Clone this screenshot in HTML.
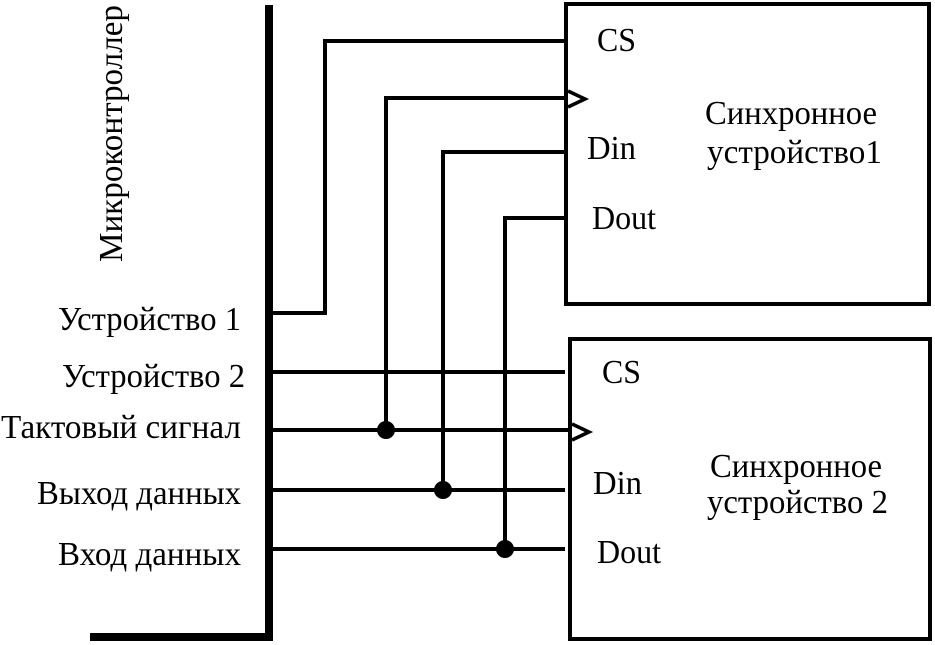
<!DOCTYPE html>
<html><head><meta charset="utf-8"><style>
html,body{margin:0;padding:0;background:#fff;}
svg{display:block;}
text{font-family:"Liberation Serif","DejaVu Serif",serif;font-size:34px;fill:#000;}
</style></head><body>
<svg width="935" height="645" viewBox="0 0 935 645" xmlns="http://www.w3.org/2000/svg">
<g stroke="#000" fill="none" stroke-width="4">
<rect x="566" y="4" width="363" height="300"/>
<rect x="570" y="339" width="360" height="300"/>
<polyline points="272,313 325,313 325,41 566,41"/>
<polyline points="386,430 386,98 566,98"/>
<polyline points="443,490 443,152 566,152"/>
<polyline points="505,549 505,218 566,218"/>
<line x1="272" y1="372" x2="565" y2="372"/>
<line x1="272" y1="430" x2="568" y2="430"/>
<line x1="272" y1="490" x2="565" y2="490"/>
<line x1="272" y1="549" x2="565" y2="549"/>
<polyline points="568,91 585,99 568,107" stroke-width="3.5"/>
<polyline points="572,424 589,432 572,440" stroke-width="3.5"/>
</g>
<rect x="265" y="5" width="8" height="636" fill="#000"/>
<rect x="90" y="633" width="183" height="8" fill="#000"/>
<circle cx="386" cy="430" r="9" fill="#000"/>
<circle cx="443" cy="490" r="9" fill="#000"/>
<circle cx="505" cy="549" r="9" fill="#000"/>
<text transform="translate(122,262) rotate(-90)" textLength="257" lengthAdjust="spacingAndGlyphs">Микроконтроллер</text>
<text x="58" y="330" textLength="183" lengthAdjust="spacingAndGlyphs">Устройство 1</text>
<text x="62" y="387" textLength="183" lengthAdjust="spacingAndGlyphs">Устройство 2</text>
<text x="1" y="438" textLength="240" lengthAdjust="spacingAndGlyphs">Тактовый сигнал</text>
<text x="37" y="504" textLength="204" lengthAdjust="spacingAndGlyphs">Выход данных</text>
<text x="58" y="565" textLength="183" lengthAdjust="spacingAndGlyphs">Вход данных</text>
<text x="597" y="51" textLength="39" lengthAdjust="spacingAndGlyphs">CS</text>
<text x="587" y="159" textLength="49" lengthAdjust="spacingAndGlyphs">Din</text>
<text x="592" y="229" textLength="64" lengthAdjust="spacingAndGlyphs">Dout</text>
<text x="602" y="383" textLength="39" lengthAdjust="spacingAndGlyphs">CS</text>
<text x="593" y="494" textLength="49" lengthAdjust="spacingAndGlyphs">Din</text>
<text x="597" y="563" textLength="64" lengthAdjust="spacingAndGlyphs">Dout</text>
<text x="705" y="124" textLength="172" lengthAdjust="spacingAndGlyphs">Синхронное</text>
<text x="707" y="163" textLength="175" lengthAdjust="spacingAndGlyphs">устройство1</text>
<text x="710" y="477" textLength="172" lengthAdjust="spacingAndGlyphs">Синхронное</text>
<text x="707" y="513" textLength="181" lengthAdjust="spacingAndGlyphs">устройство 2</text>
</svg>
</body></html>
